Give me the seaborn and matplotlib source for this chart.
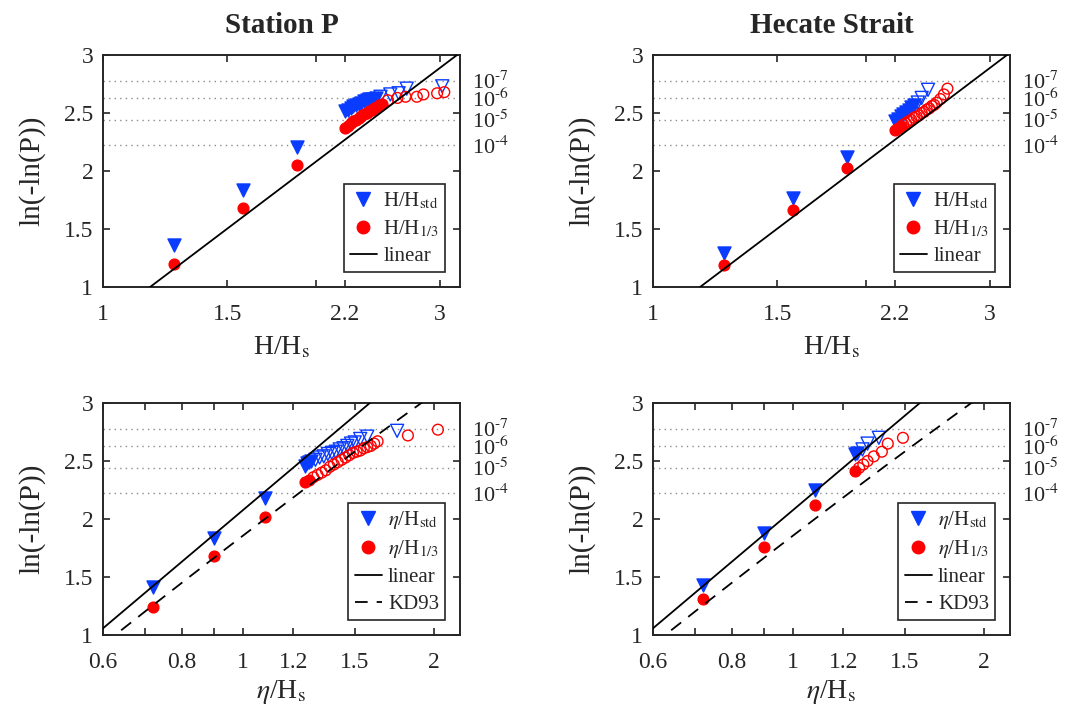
import numpy as np
import matplotlib
matplotlib.use('Agg')
import matplotlib.pyplot as plt
import matplotlib.transforms as mtransforms
from matplotlib.lines import Line2D
import seaborn as sns

# ---- data (x = normalised height, y = ln(-ln(P))) ----
# Station P, wave height
P_H_std_fill_x = [1.26, 1.58, 1.88, 2.20, 2.22, 2.24, 2.26, 2.28, 2.30, 2.32, 2.34, 2.36, 2.38, 2.40, 2.43]
P_H_std_fill_y = [1.36, 1.84, 2.21, 2.52, 2.53, 2.54, 2.56, 2.57, 2.58, 2.59, 2.60, 2.61, 2.62, 2.62, 2.63]
P_H_std_open_x = [2.47, 2.55, 2.62, 2.69, 3.02]
P_H_std_open_y = [2.64, 2.66, 2.67, 2.71, 2.73]
P_H_13_fill_x = [1.26, 1.58, 1.88, 2.20, 2.22, 2.24, 2.26, 2.28, 2.30, 2.32, 2.34, 2.36, 2.38, 2.40, 2.42, 2.44, 2.46, 2.48]
P_H_13_fill_y = [1.20, 1.68, 2.05, 2.37, 2.39, 2.41, 2.43, 2.44, 2.46, 2.47, 2.49, 2.50, 2.52, 2.53, 2.54, 2.55, 2.57, 2.58]
P_H_13_open_x = [2.53, 2.61, 2.68, 2.78, 2.84, 2.97, 3.04]
P_H_13_open_y = [2.61, 2.63, 2.64, 2.64, 2.66, 2.67, 2.68]

# Hecate Strait, wave height
HS_H_std_fill_x = [1.26, 1.58, 1.88, 2.20, 2.22, 2.24, 2.26, 2.28, 2.30, 2.32, 2.34]
HS_H_std_fill_y = [1.29, 1.77, 2.12, 2.43, 2.45, 2.47, 2.49, 2.51, 2.53, 2.55, 2.57]
HS_H_std_open_x = [2.37, 2.40, 2.45]
HS_H_std_open_y = [2.59, 2.63, 2.70]
HS_H_13_fill_x = [1.26, 1.58, 1.88, 2.20, 2.22, 2.24]
HS_H_13_fill_y = [1.19, 1.66, 2.03, 2.35, 2.37, 2.39]
HS_H_13_open_x = [2.26, 2.28, 2.30, 2.32, 2.34, 2.36, 2.38, 2.40, 2.42, 2.44, 2.46, 2.48, 2.50, 2.52, 2.55, 2.58, 2.61]
HS_H_13_open_y = [2.40, 2.41, 2.43, 2.44, 2.46, 2.47, 2.48, 2.50, 2.51, 2.53, 2.54, 2.56, 2.57, 2.59, 2.62, 2.66, 2.71]

# Station P, crest height
P_E_std_fill_x = [0.72, 0.90, 1.083, 1.25, 1.26, 1.27, 1.28]
P_E_std_fill_y = [1.41, 1.84, 2.18, 2.46, 2.48, 2.49, 2.50]
P_E_std_open_x = [1.30, 1.32, 1.34, 1.36, 1.38, 1.40, 1.42, 1.44, 1.46, 1.48, 1.50, 1.53, 1.57, 1.75]
P_E_std_open_y = [2.51, 2.53, 2.54, 2.56, 2.57, 2.58, 2.60, 2.61, 2.63, 2.65, 2.66, 2.69, 2.71, 2.76]
P_E_13_fill_x = [0.72, 0.90, 1.083, 1.25, 1.27]
P_E_13_fill_y = [1.24, 1.68, 2.02, 2.32, 2.34]
P_E_13_open_x = [1.29, 1.31, 1.33, 1.35, 1.37, 1.39, 1.41, 1.43, 1.45, 1.47, 1.49, 1.51, 1.53, 1.55, 1.57, 1.59, 1.61, 1.63, 1.82, 2.03]
P_E_13_open_y = [2.36, 2.38, 2.40, 2.42, 2.45, 2.47, 2.49, 2.51, 2.53, 2.55, 2.57, 2.58, 2.59, 2.61, 2.62, 2.63, 2.65, 2.67, 2.72, 2.77]

# Hecate Strait, crest height
HS_E_std_fill_x = [0.72, 0.90, 1.083, 1.25, 1.26]
HS_E_std_fill_y = [1.43, 1.88, 2.25, 2.56, 2.57]
HS_E_std_open_x = [1.286, 1.31, 1.365]
HS_E_std_open_y = [2.60, 2.65, 2.70]
HS_E_13_fill_x = [0.72, 0.90, 1.083, 1.25]
HS_E_13_fill_y = [1.31, 1.76, 2.12, 2.41]
HS_E_13_open_x = [1.27, 1.29, 1.31, 1.34, 1.38, 1.41, 1.49]
HS_E_13_open_y = [2.44, 2.47, 2.50, 2.54, 2.58, 2.65, 2.70]

# probability levels marked on the right
P_LEVELS = [1e-4, 1e-5, 1e-6, 1e-7]
P_LABELS = ['10$^{\\text{-}4}$', '10$^{\\text{-}5}$', '10$^{\\text{-}6}$', '10$^{\\text{-}7}$']

# reference curves: ln(-ln P) = a + 2 ln(x)
LIN_A_H = np.log(2.0)     # Rayleigh for H/Hs
LIN_A_ETA = np.log(8.0)   # Rayleigh for eta/Hs
KD93_B = 0.13             # second-order correction eta = eL + b*eL^2

H_TICKS = [1, 1.5, 2, 2.2, 3]
H_TICKLABELS = ['1', '1.5', '', '2.2', '3']
ETA_TICKS = [0.6, 0.7, 0.8, 0.9, 1, 1.2, 1.5, 2]
ETA_TICKLABELS = ['0.6', '', '0.8', '', '1', '1.2', '1.5', '2']
Y_TICKS = [1, 1.5, 2, 2.5, 3]
Y_TICKLABELS = ['1', '1.5', '2', '2.5', '3']

BLUE = '#0a3cff'
RED = '#ff0000'
DARK = '#262626'

sns.set_style('ticks')
plt.rcParams['font.family'] = ['Liberation Serif', 'DejaVu Serif']
plt.rcParams['mathtext.fontset'] = 'stix'

fig = plt.figure(figsize=(10.81, 7.23), dpi=100)

W, H = 357 / 1081, 232 / 723
axes = {
    'P_H': fig.add_axes([103 / 1081, 1 - 287 / 723, W, H]),
    'HS_H': fig.add_axes([653 / 1081, 1 - 287 / 723, W, H]),
    'P_E': fig.add_axes([103 / 1081, 1 - 635 / 723, W, H]),
    'HS_E': fig.add_axes([653 / 1081, 1 - 635 / 723, W, H]),
}


def scatter(ax, x, y, marker, color, filled):
    sns.scatterplot(x=x, y=y, ax=ax, marker=marker, s=88 if marker == 'v' else 60,
                    color=color, facecolor=color if filled else 'none',
                    edgecolor=color, linewidth=1.0, zorder=3, legend=False)


def draw_panel(ax, data, kind, title=None):
    fx_s, fy_s, ox_s, oy_s, fx_t, fy_t, ox_t, oy_t = data
    if kind == 'H':
        xlim = (1, 3.2)
        ticks, ticklabels = H_TICKS, H_TICKLABELS
        sym = 'H'
        a = LIN_A_H
    else:
        xlim = (0.6, 2.2)
        ticks, ticklabels = ETA_TICKS, ETA_TICKLABELS
        sym = r'$\eta$'
        a = LIN_A_ETA

    for p in P_LEVELS:
        ax.axhline(np.log(-np.log(p)), color='#8c8c8c', linestyle=(0, (1, 3)),
                   linewidth=1.0, zorder=1)

    scatter(ax, fx_s, fy_s, 'v', BLUE, True)
    scatter(ax, ox_s, oy_s, 'v', BLUE, False)
    scatter(ax, fx_t, fy_t, 'o', RED, True)
    scatter(ax, ox_t, oy_t, 'o', RED, False)

    xs = np.geomspace(xlim[0] * 0.9, xlim[1] * 1.1, 200)
    sns.lineplot(x=xs, y=a + 2 * np.log(xs), ax=ax, color='k', linewidth=1.3,
                 zorder=4, legend=False)
    handles = [
        Line2D([], [], marker='v', color=BLUE, linestyle='none', markersize=10),
        Line2D([], [], marker='o', color=RED, linestyle='none', markersize=9),
        Line2D([], [], color='k', linewidth=1.3),
    ]
    labels = [sym + '/H$_{\\rm std}$', sym + '/H$_{\\rm 1/3}$', 'linear']
    if kind == 'E':
        eL = np.linspace(0.5, 1.9, 200)
        sns.lineplot(x=eL + KD93_B * eL ** 2, y=a + 2 * np.log(eL), ax=ax, color='k',
                     linewidth=1.3, linestyle=(0, (7, 5)), zorder=4, legend=False,
                     sort=False)
        handles.append(Line2D([], [], color='k', linewidth=1.3, linestyle=(0, (7, 5))))
        labels.append('KD93')

    ax.set_xscale('log')
    ax.set_xlim(*xlim)
    ax.set_ylim(1, 3)
    ax.xaxis.set_minor_locator(matplotlib.ticker.NullLocator())
    ax.set_xticks(ticks)
    ax.set_xticklabels(ticklabels)
    ax.set_yticks(Y_TICKS)
    ax.set_yticklabels(Y_TICKLABELS)
    ax.tick_params(direction='in', top=True, right=True, length=5, width=1.2,
                   labelsize=17, colors=DARK, pad=7)
    ax.tick_params(axis='x', pad=12)
    for sp in ax.spines.values():
        sp.set_visible(True)
        sp.set_color(DARK)
        sp.set_linewidth(1.4)
    ax.set_xlabel(sym + '/H$_{\\rm s}$', fontsize=20, color=DARK,
                  labelpad=7 if kind == 'H' else 4)
    ax.set_ylabel('ln(-ln(P))', fontsize=21, color=DARK, labelpad=13)
    if title:
        ax.set_title(title, fontsize=21, fontweight='bold', pad=16)

    trans = mtransforms.blended_transform_factory(ax.transAxes, ax.transData)
    for p, lab in zip(P_LEVELS, P_LABELS):
        ax.annotate(lab, (1.034, np.log(-np.log(p))), xycoords=trans,
                    xytext=(0, -6), textcoords='offset points', ha='left',
                    va='baseline', fontsize=16, color=DARK, annotation_clip=False)

    leg = ax.legend(handles, labels, loc='lower right', fontsize=15,
                    frameon=True, fancybox=False, framealpha=1, edgecolor=DARK,
                    handlelength=1.3, labelspacing=0.35, borderpad=0.3,
                    handletextpad=0.3, borderaxespad=0.7)
    leg.get_frame().set_linewidth(1.2)


draw_panel(axes['P_H'], (P_H_std_fill_x, P_H_std_fill_y, P_H_std_open_x, P_H_std_open_y,
                         P_H_13_fill_x, P_H_13_fill_y, P_H_13_open_x, P_H_13_open_y),
           'H', 'Station P')
draw_panel(axes['HS_H'], (HS_H_std_fill_x, HS_H_std_fill_y, HS_H_std_open_x, HS_H_std_open_y,
                          HS_H_13_fill_x, HS_H_13_fill_y, HS_H_13_open_x, HS_H_13_open_y),
           'H', 'Hecate Strait')
draw_panel(axes['P_E'], (P_E_std_fill_x, P_E_std_fill_y, P_E_std_open_x, P_E_std_open_y,
                         P_E_13_fill_x, P_E_13_fill_y, P_E_13_open_x, P_E_13_open_y),
           'E')
draw_panel(axes['HS_E'], (HS_E_std_fill_x, HS_E_std_fill_y, HS_E_std_open_x, HS_E_std_open_y,
                          HS_E_13_fill_x, HS_E_13_fill_y, HS_E_13_open_x, HS_E_13_open_y),
           'E')

fig.savefig('out.png', dpi=100)
